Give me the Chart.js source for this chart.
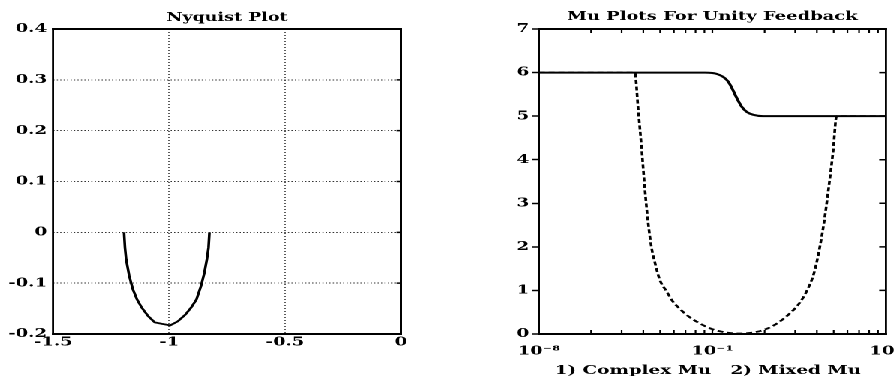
<!DOCTYPE html>
<html>
<head>
<meta charset="utf-8">
<script src="https://cdn.jsdelivr.net/npm/chart.js@4/dist/chart.umd.min.js"></script>
<style>
  html, body { margin: 0; padding: 0; background: #fff; overflow: hidden; width: 895px; height: 376px; }
  #wrap { position: absolute; left: 0; top: 0; width: 597px; height: 376px; transform: scaleX(1.5); transform-origin: 0 0; }
  #c1 { position: absolute; left: 0; top: 0; }
  #c2 { position: absolute; left: 293px; top: 0; }
</style>
</head>
<body>
<div id="wrap">
  <canvas id="c1" width="293" height="376"></canvas>
  <canvas id="c2" width="320" height="376"></canvas>
</div>
<script>
// ---------------- Data ----------------
// Nyquist plot (real / imaginary parts)
const NYQ_RE = [-1.194, -1.190, -1.185, -1.172, -1.156, -1.138, -1.118, -1.090, -1.062, -1.030, -0.995, -0.962, -0.930, -0.905, -0.882, -0.862, -0.848, -0.837, -0.830, -0.826];
const NYQ_IM = [0, -0.030, -0.053, -0.085, -0.112, -0.132, -0.148, -0.165, -0.177, -0.180, -0.183, -0.175, -0.162, -0.148, -0.132, -0.105, -0.080, -0.053, -0.030, 0];

// Mu plots: 1) complex mu (solid), 2) mixed mu (dashed)
const COMPLEX_MU_FREQ = [1e-8, 1e-2, 0.0501, 0.1, 0.148, 0.275, 0.437, 0.631, 0.955, 1.51, 2.40, 4.47, 11.0, 1e6];
const COMPLEX_MU      = [6, 6, 6, 5.99, 5.97, 5.90, 5.79, 5.63, 5.42, 5.22, 5.10, 5.03, 5.0, 5];
const MIXED_MU_FREQ = [1e-8, 7.41e-5, 1.02e-4, 1.38e-4, 1.91e-4, 2.51e-4, 3.47e-4, 5.01e-4, 7.59e-4, 1.41e-3, 2.51e-3, 5.01e-3, 0.01, 0.0316, 0.1, 0.316, 1.26, 5.01, 15.8, 39.8, 126, 316, 631, 1259, 1995, 3162, 5012, 7413, 10233, 1e6];
const MIXED_MU      = [6, 6, 5.14, 4.30, 3.30, 2.60, 2.00, 1.60, 1.24, 0.98, 0.75, 0.57, 0.42, 0.24, 0.11, 0.04, 0.01, 0.04, 0.12, 0.24, 0.46, 0.70, 0.98, 1.40, 1.90, 2.55, 3.40, 4.20, 5.0, 5];

// Tick labels
const MU_X_TICK_VALUES = [1e-8, 1e-1, 1e6];
const MU_X_TICK_LABELS = ['10\u207B\u2078', '10\u207B\u00B9', '10\u2076'];

const TITLE_LEFT = 'Nyquist Plot';
const TITLE_RIGHT = 'Mu Plots For Unity Feedback';
const XLABEL_RIGHT = '1) Complex Mu   2) Mixed Mu';

// ---------------- Styling ----------------
const FONT_FAMILY = '"DejaVu Serif", "Liberation Serif", serif';
const tickFont = { family: FONT_FAMILY, size: 12, weight: 'bold' };
const fmt = v => String(parseFloat(Number(v).toFixed(2)));

// draw text centred at cx, sized so that its width matches targetW (in canvas units)
function fitText(ctx, text, cx, y, targetW, baseSize) {
  ctx.font = 'bold ' + baseSize + 'px ' + FONT_FAMILY;
  const w = ctx.measureText(text).width;
  let size = baseSize * targetW / w;
  size = Math.max(baseSize * 0.6, Math.min(baseSize * 1.6, size));
  ctx.font = 'bold ' + size.toFixed(2) + 'px ' + FONT_FAMILY;
  ctx.fillText(text, cx, y);
}

const framePlugin = {
  id: 'frame',
  afterDraw(chart, args, opts) {
    const { ctx, chartArea: a } = chart;
    const xs = chart.scales.x, ys = chart.scales.y;
    ctx.save();
    ctx.strokeStyle = '#000';
    // inward tick marks
    ctx.lineWidth = 1.1;
    ctx.beginPath();
    if (opts.xTicks) {
      for (const t of xs.ticks) {
        const px = xs.getPixelForValue(t.value);
        if (px <= a.left + 1 || px >= a.right - 1) continue;
        ctx.moveTo(px, a.bottom); ctx.lineTo(px, a.bottom - opts.xTickLen);
        ctx.moveTo(px, a.top); ctx.lineTo(px, a.top + opts.xTickLen);
      }
    }
    ctx.stroke();
    ctx.lineWidth = 1.5;
    ctx.beginPath();
    if (opts.yTicksRight) {
      for (const t of ys.ticks) {
        const py = ys.getPixelForValue(t.value);
        if (py <= a.top + 1 || py >= a.bottom - 1) continue;
        ctx.moveTo(a.right, py); ctx.lineTo(a.right - opts.yTickLen, py);
      }
    }
    ctx.stroke();
    // frame: horizontal lines
    ctx.lineWidth = 2;
    ctx.beginPath();
    ctx.moveTo(a.left - 0.7, a.top); ctx.lineTo(a.right + 0.7, a.top);
    ctx.moveTo(a.left - 0.7, a.bottom); ctx.lineTo(a.right + 0.7, a.bottom);
    ctx.stroke();
    // frame: vertical lines (thinner because of horizontal stretch)
    ctx.lineWidth = 1.4;
    ctx.beginPath();
    ctx.moveTo(a.left, a.top - 1); ctx.lineTo(a.left, a.bottom + 1);
    ctx.moveTo(a.right, a.top - 1); ctx.lineTo(a.right, a.bottom + 1);
    ctx.stroke();
    // titles
    ctx.fillStyle = '#000';
    ctx.textAlign = 'center';
    ctx.textBaseline = 'alphabetic';
    fitText(ctx, opts.title, (a.left + a.right) / 2, opts.titleY, opts.titleW, 12);
    if (opts.xLabel) {
      fitText(ctx, opts.xLabel, (a.left + a.right) / 2 + opts.xLabelDx, opts.xLabelY, opts.xLabelW, 13);
    }
    ctx.restore();
  }
};

// ---------------- Left chart: Nyquist ----------------
new Chart(document.getElementById('c1'), {
  type: 'scatter',
  data: {
    datasets: [{
      data: NYQ_RE.map((x, i) => ({ x, y: NYQ_IM[i] })),
      showLine: true,
      borderColor: '#000',
      borderWidth: 1.8,
      pointRadius: 0,
      tension: 0
    }]
  },
  options: {
    responsive: false,
    animation: false,
    devicePixelRatio: 2,
    layout: { padding: { left: 0, right: 25.7, top: 29, bottom: 0 } },
    plugins: {
      legend: { display: false },
      tooltip: { enabled: false },
      frame: { title: TITLE_LEFT, titleY: 21, titleW: 81, xTicks: false, xTickLen: 4, yTicksRight: true, yTickLen: 3 }
    },
    scales: {
      x: {
        type: 'linear', min: -1.5, max: 0,
        ticks: { stepSize: 0.5, color: '#000', font: tickFont, padding: 1, maxRotation: 0, callback: fmt },
        grid: { color: '#333', lineWidth: 0.8, drawTicks: false },
        border: { display: false, dash: [1, 2] },
        afterFit: s => { s.height = 42; }
      },
      y: {
        type: 'linear', min: -0.2, max: 0.4,
        ticks: { stepSize: 0.1, color: '#000', font: tickFont, padding: 4, callback: fmt },
        grid: { color: '#333', lineWidth: 1, drawTicks: false },
        border: { display: false, dash: [0.8, 1.5] },
        afterFit: s => { s.width = 35.3; }
      }
    }
  },
  plugins: [framePlugin]
});

// ---------------- Right chart: Mu plots ----------------
new Chart(document.getElementById('c2'), {
  type: 'scatter',
  data: {
    datasets: [
      {
        label: 'Complex Mu',
        data: COMPLEX_MU_FREQ.map((x, i) => ({ x, y: COMPLEX_MU[i] })),
        showLine: true,
        borderColor: '#000',
        borderWidth: 2,
        pointRadius: 0,
        cubicInterpolationMode: 'monotone',
        order: 1
      },
      {
        label: 'Mixed Mu',
        data: MIXED_MU_FREQ.map((x, i) => ({ x, y: MIXED_MU[i] })),
        showLine: true,
        borderColor: '#000',
        borderWidth: 1.8,
        borderDash: [4, 2.5],
        pointRadius: 0,
        cubicInterpolationMode: 'monotone',
        order: 2
      }
    ]
  },
  options: {
    responsive: false,
    animation: false,
    devicePixelRatio: 2,
    layout: { padding: { left: 0, right: 22.3, top: 29, bottom: 0 } },
    plugins: {
      legend: { display: false },
      tooltip: { enabled: false },
      frame: { title: TITLE_RIGHT, titleY: 20, titleW: 194, xTicks: true, xTickLen: 4, yTicksRight: true, yTickLen: 4.5,
               xLabel: XLABEL_RIGHT, xLabelY: 374, xLabelDx: -3, xLabelW: 204 }
    },
    scales: {
      x: {
        type: 'logarithmic', min: 1e-8, max: 1e6,
        afterBuildTicks: scale => {
          const ticks = MU_X_TICK_VALUES.map(v => ({ value: v, major: true }));
          [-8, -1].forEach(d => {
            for (let k = 2; k <= 9; k++) ticks.push({ value: Math.pow(10, d + 7 * Math.log10(k)) });
          });
          ticks.sort((p, q) => p.value - q.value);
          scale.ticks = ticks;
        },
        ticks: {
          autoSkip: false, maxRotation: 0, color: '#000', font: tickFont, padding: 2,
          callback: v => { const i = MU_X_TICK_VALUES.indexOf(v); return i >= 0 ? MU_X_TICK_LABELS[i] : ''; }
        },
        grid: { display: false },
        border: { display: false },
        afterFit: s => { s.height = 42; }
      },
      y: {
        type: 'linear', min: 0, max: 7,
        ticks: { stepSize: 1, color: '#000', font: tickFont, padding: 2 },
        grid: { drawOnChartArea: false, drawTicks: true, tickLength: 4.5, tickColor: '#000', tickWidth: 1.5 },
        border: { display: false },
        afterFit: s => { s.width = 66.3; }
      }
    }
  },
  plugins: [framePlugin]
});
</script>
</body>
</html>
